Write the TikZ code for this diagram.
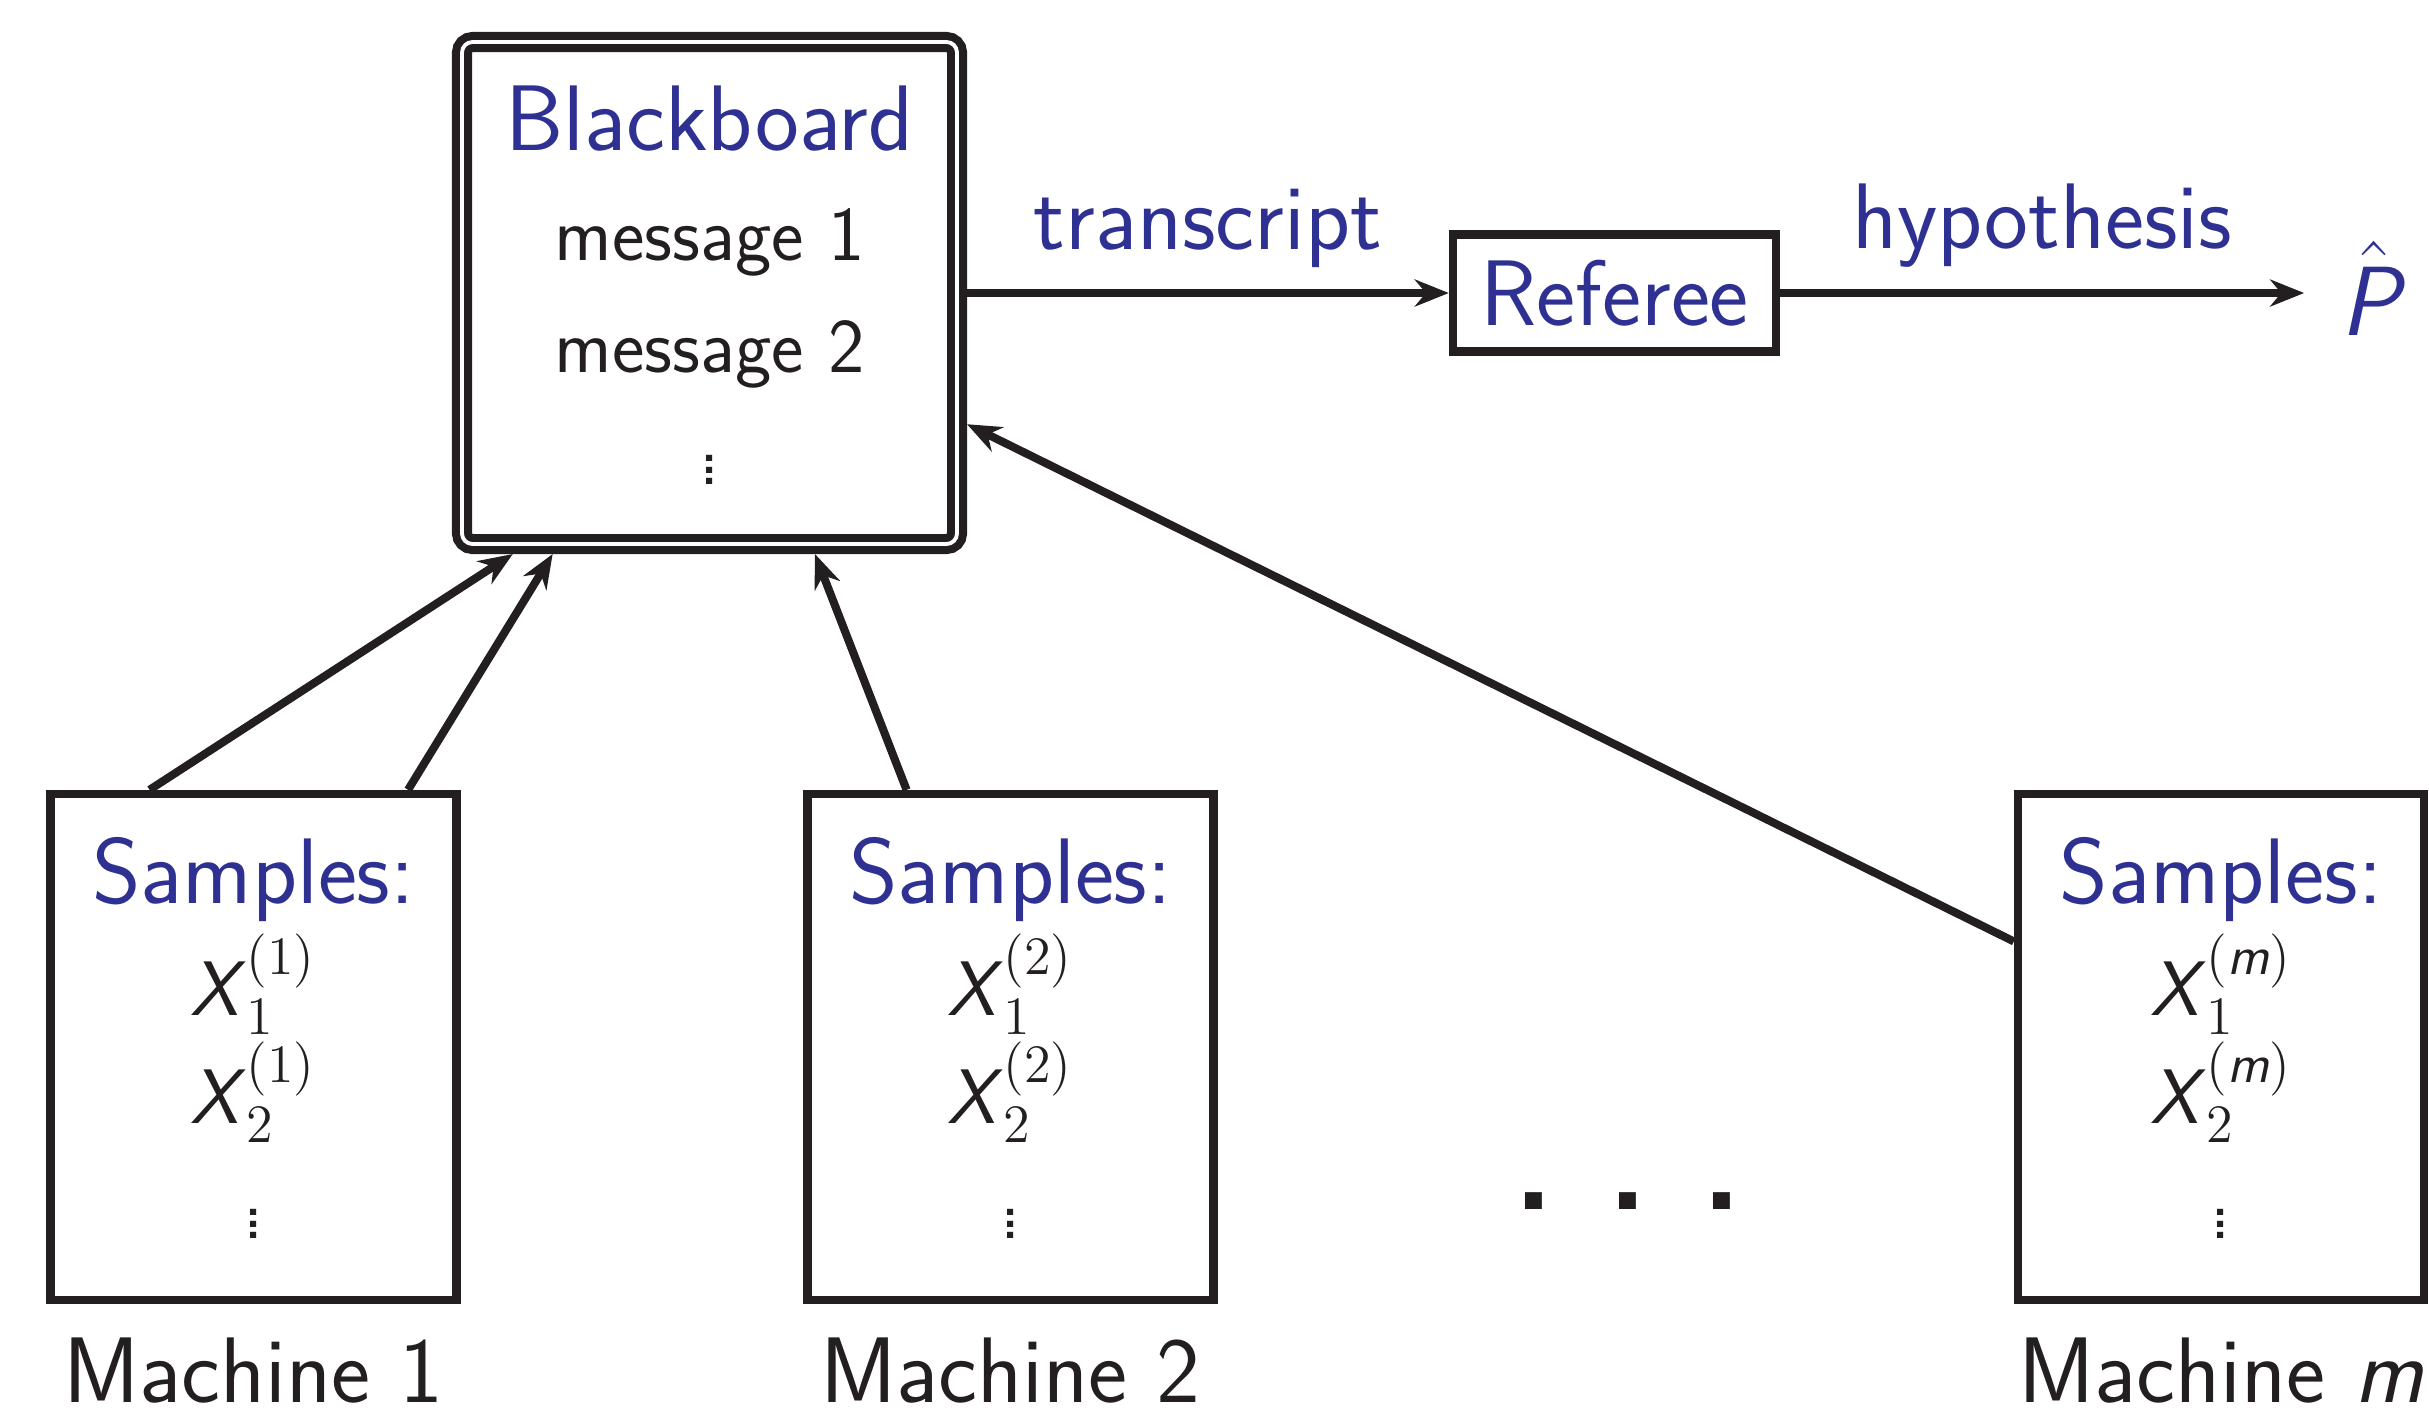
\RequirePackage{fix-cm}
\documentclass[tikz,border=0pt]{standalone}
\usepackage{amsmath}
\usetikzlibrary{arrows.meta}
\renewcommand{\familydefault}{\sfdefault}
\definecolor{navy}{RGB}{46,49,146}
\definecolor{ink}{RGB}{35,31,32}
\newcommand{\sv}[1]{\textsf{\textit{#1}}}
\newcommand{\colvdots}{\vbox{\baselineskip=3.2pt\lineskiplimit=-20pt\hbox{.}\hbox{.}\hbox{.}}}
\tikzset{
  box/.style={draw=ink, line width=2.4pt, minimum width=4.06cm, minimum height=5.06cm},
  board/.style={draw=ink, double=white, line width=2.3pt, double distance=1.1pt, rounded corners=3pt,
    minimum width=4.95cm, minimum height=5.02cm, outer sep=2.85pt},
  big/.style={text=navy, font=\fontsize{26.5}{30}\selectfont},
  lbl/.style={text=navy, font=\fontsize{26.5}{30}\selectfont},
  msg/.style={text=ink, font=\fontsize{22}{26}\selectfont},
  smp/.style={text=ink, font=\fontsize{22}{26}\selectfont},
  mach/.style={text=ink, font=\fontsize{26.5}{30}\selectfont},
  arr/.style={draw=ink, line width=2.3pt, -{Stealth[length=0.34cm, width=0.27cm]}},
}
\begin{document}
\begin{tikzpicture}
\useasboundingbox (0,0) rectangle (24.29,-14.16);
%\draw[step=1cm,gray,very thin] (0,0) grid (24.29,-14.16);
% blackboard
\node[board] (board) at (7.095,-2.93) {};
\node[big, anchor=base] (bbtitle) at (7.095,-1.50) {Blackboard};
\node[msg, anchor=base] (msg1) at (7.095,-2.60) {message 1};
\node[msg, anchor=base] (msg2) at (7.095,-3.72) {message 2};
\node[msg] (bbdots) at (7.095,-4.70) {\colvdots};
% referee and output
\node[box, big, minimum width=3.23cm, minimum height=1.17cm] (ref) at (16.145,-2.93) {Referee};
\node[anchor=base, text=navy, font=\fontsize{28}{32}\selectfont, inner xsep=0.36cm] (phat) at (23.74,-3.35) {$\hat{\sv{P}}$};
\draw[arr] (board) -- (ref) node[lbl, midway, above, yshift=0.1cm] (trans) {transcript};
\draw[arr] (ref.east) -- (ref.east -| phat.west) node[lbl, midway, above, yshift=0.1cm] (hyp) {hypothesis};
% machines
\node[box] (m1) at (2.535,-10.47) {};
\node[box] (m2) at (10.105,-10.47) {};
\node[box] (mm) at (22.21,-10.47) {};
\node[big, anchor=base] (s1) at (2.535,-9.03) {Samples:};
\node[big, anchor=base] (s2) at (10.105,-9.03) {Samples:};
\node[big, anchor=base] (sm) at (22.21,-9.03) {Samples:};
\node[smp, anchor=base] (x11) at (2.535,-10.15) {$\sv{X}_1^{(1)}$};
\node[smp, anchor=base] (x21) at (2.535,-11.23) {$\sv{X}_2^{(1)}$};
\node[smp, anchor=base] (x12) at (10.105,-10.15) {$\sv{X}_1^{(2)}$};
\node[smp, anchor=base] (x22) at (10.105,-11.23) {$\sv{X}_2^{(2)}$};
\node[smp, anchor=base] (x1m) at (22.21,-10.15) {$\sv{X}_1^{(\sv{m})}$};
\node[smp, anchor=base] (x2m) at (22.21,-11.23) {$\sv{X}_2^{(\sv{m})}$};
\node[msg] (d1) at (2.535,-12.24) {\colvdots};
\node[msg] (d2) at (10.105,-12.24) {\colvdots};
\node[msg] (dm) at (22.21,-12.24) {\colvdots};
\node[mach, anchor=base] (lab1) at (2.535,-14.02) {Machine 1};
\node[mach, anchor=base] (lab2) at (10.105,-14.02) {Machine 2};
\node[mach, anchor=base] (labm) at (22.21,-14.02) {Machine \sv{m}};
\node[text=ink, font=\fontsize{60}{60}\selectfont, anchor=base] (gap) at (16.285,-12.09) {.\kern0.39cm.\kern0.39cm.};
% arrows to the blackboard
\draw[arr] (m1.112) -- (board.233);
\draw[arr] (m1.59) -- (board.239);
\draw[arr] (m2.112) -- (board.292);
\draw[arr] (mm.153) -- (board.333);
\end{tikzpicture}
\end{document}
